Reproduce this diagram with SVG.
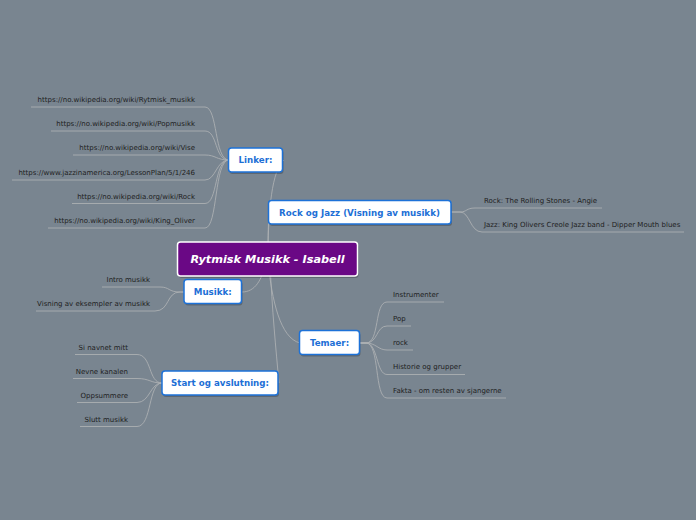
<svg xmlns="http://www.w3.org/2000/svg" width="696" height="520" viewBox="0 0 696 520">
<style>
.bg{fill:#798590}
.ln{fill:none;stroke:#aeb1b4;stroke-width:1;stroke-opacity:0.85}
.leaf{font-family:"DejaVu Sans",Verdana,sans-serif;font-size:7px;fill:#1e1e1e}
.box{fill:#ffffff;stroke:#1d72d8;stroke-width:1.5}
.shadow{fill:#000;fill-opacity:0.22}
.lbl{font-family:"DejaVu Sans",Verdana,sans-serif;font-size:8.7px;font-weight:bold;fill:#1d6fd6;text-anchor:middle}
.root{fill:#6a0885;stroke:#ffffff;stroke-width:1.5}
.rootlbl{font-family:"DejaVu Sans",Verdana,sans-serif;font-size:11.3px;font-weight:bold;font-style:italic;fill:#ffffff;text-anchor:middle}
</style>
<rect class="bg" x="0" y="0" width="696" height="520"/>
<g id="connectors">
  <path class="ln" d="M268,258 C268,210 272,170 284,160"/>
  <path class="ln" d="M268,258 C268,235 268,220 270,212"/>
  <path class="ln" d="M266,262 C262,280 255,292 242,292"/>
  <path class="ln" d="M268,262 C272,300 280,338 300,343"/>
  <path class="ln" d="M270,262 C272,310 276,350 279,383"/>
  <path class="ln" d="M31,107 H205 C218,107 214,160 229,160"/>
  <path class="ln" d="M51,131 H205 C218,131 214,160 229,160"/>
  <path class="ln" d="M73,155 H205 C216,155 216,160 229,160"/>
  <path class="ln" d="M12,180 H205 C216,180 216,160 229,160"/>
  <path class="ln" d="M72,203.5 H205 C218,203.5 214,160 229,160"/>
  <path class="ln" d="M48,228 H205 C218,228 214,160 229,160"/>
  <path class="ln" d="M451,212 H460 C467,212 466,208 475,208 H602"/>
  <path class="ln" d="M451,212 H460 C470,212 470,232 482,232 H684"/>
  <path class="ln" d="M184,292 H180 C168,292 170,287 160,287 H102"/>
  <path class="ln" d="M184,292 H180 C166,292 170,311 155,311 H36"/>
  <path class="ln" d="M359,343 H366 C380,343 374,302 387,302 H444"/>
  <path class="ln" d="M359,343 H366 C378,343 376,326 387,326 H411"/>
  <path class="ln" d="M359,343 H366 C376,343 378,350 387,350 H413"/>
  <path class="ln" d="M359,343 H366 C378,343 376,374.5 387,374.5 H465"/>
  <path class="ln" d="M359,343 H366 C380,343 374,398 387,398 H506"/>
  <path class="ln" d="M75,354.5 H137 C152,354.5 148,383 162,383"/>
  <path class="ln" d="M73,378.5 H137 C150,378.5 150,383 162,383"/>
  <path class="ln" d="M77,402.5 H137 C150,402.5 150,383 162,383"/>
  <path class="ln" d="M80,426.5 H137 C152,426.5 148,383 162,383"/>
</g>
<g id="linker-leaves">
  <text class="leaf" x="195" y="102" text-anchor="end">https://no.wikipedia.org/wiki/Rytmisk_musikk</text>
  <text class="leaf" x="195" y="126" text-anchor="end">https://no.wikipedia.org/wiki/Popmusikk</text>
  <text class="leaf" x="195" y="150" text-anchor="end">https://no.wikipedia.org/wiki/Vise</text>
  <text class="leaf" x="195" y="175" text-anchor="end">https://www.jazzinamerica.org/LessonPlan/5/1/246</text>
  <text class="leaf" x="195" y="199" text-anchor="end">https://no.wikipedia.org/wiki/Rock</text>
  <text class="leaf" x="195" y="223" text-anchor="end">https://no.wikipedia.org/wiki/King_Oliver</text>
</g>
<g id="rock-leaves">
  <text class="leaf" x="484" y="203">Rock: The Rolling Stones - Angie</text>
  <text class="leaf" x="484" y="227.3">Jazz: King Olivers Creole Jazz band - Dipper Mouth blues</text>
</g>
<g id="musikk-leaves">
  <text class="leaf" x="150" y="282.3" text-anchor="end">Intro musikk</text>
  <text class="leaf" x="150" y="306.3" text-anchor="end">Visning av eksempler av musikk</text>
</g>
<g id="temaer-leaves">
  <text class="leaf" x="393" y="297.3">Instrumenter</text>
  <text class="leaf" x="393" y="321.3">Pop</text>
  <text class="leaf" x="393" y="345">rock</text>
  <text class="leaf" x="393" y="369.3">Historie og grupper</text>
  <text class="leaf" x="393" y="393">Fakta - om resten av sjangerne</text>
</g>
<g id="start-leaves">
  <text class="leaf" x="128" y="350" text-anchor="end">Si navnet mitt</text>
  <text class="leaf" x="128" y="374.3" text-anchor="end">Nevne kanalen</text>
  <text class="leaf" x="128" y="398" text-anchor="end">Oppsummere</text>
  <text class="leaf" x="128" y="422" text-anchor="end">Slutt musikk</text>
</g>
<g id="node-linker">
  <rect class="shadow" x="229.5" y="150" width="54" height="24" rx="3"/>
  <rect class="box" x="228.5" y="148" width="54" height="24" rx="3"/>
  <text class="lbl" x="255.5" y="163">Linker:</text>
</g>
<g id="node-rock">
  <rect class="shadow" x="269.5" y="202.5" width="182.5" height="23.5" rx="3"/>
  <rect class="box" x="268.5" y="200.5" width="182.5" height="23.5" rx="3"/>
  <text class="lbl" x="359.5" y="215.5">Rock og Jazz (Visning av musikk)</text>
</g>
<g id="node-root">
  <rect class="shadow" x="178.5" y="244" width="180" height="34" rx="3"/>
  <rect class="root" x="177.5" y="242" width="180" height="34" rx="3"/>
  <text class="rootlbl" x="267.5" y="263">Rytmisk Musikk - Isabell</text>
</g>
<g id="node-musikk">
  <rect class="shadow" x="185" y="281.5" width="57.5" height="24" rx="3"/>
  <rect class="box" x="184" y="279.5" width="57.5" height="24" rx="3"/>
  <text class="lbl" x="212.8" y="294.7">Musikk:</text>
</g>
<g id="node-temaer">
  <rect class="shadow" x="300.5" y="332.5" width="60" height="24" rx="3"/>
  <rect class="box" x="299.5" y="330.5" width="60" height="24" rx="3"/>
  <text class="lbl" x="329.5" y="345.7">Temaer:</text>
</g>
<g id="node-start">
  <rect class="shadow" x="163" y="373" width="116" height="24" rx="3"/>
  <rect class="box" x="162" y="371" width="116" height="24" rx="3"/>
  <text class="lbl" x="220" y="386.3">Start og avslutning:</text>
</g>
</svg>
